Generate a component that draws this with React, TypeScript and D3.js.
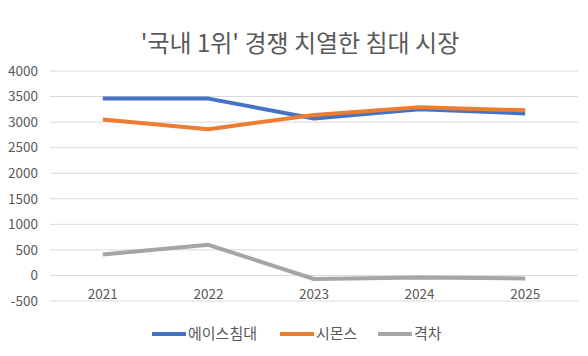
import React from "react";
import * as d3 from "d3";

const years = ["2021", "2022", "2023", "2024", "2025"];
const aceBed = [3460, 3460, 3070, 3250, 3170];
const simmons = [3050, 2860, 3140, 3290, 3230];
const gap = [410, 600, -70, -40, -60];
const yTicks = [-500, 0, 500, 1000, 1500, 2000, 2500, 3000, 3500, 4000];
const seriesNames = ["에이스침대", "시몬스", "격차"];
const colors = ["#4472C4", "#ED7D31", "#A5A5A5"];

export default function App() {
  const W = 588, H = 356;
  const font = "'Noto Sans CJK KR', 'Noto Sans', sans-serif";
  const x = d3.scaleBand<string>().domain(years).range([50, 578]);
  const y = d3.scaleLinear().domain([-500, 4000]).range([301, 71]);
  const line = d3
    .line<number>()
    .x((_, i) => (x(years[i]) as number) + x.bandwidth() / 2)
    .y((d) => y(d));
  const data = [aceBed, simmons, gap];
  const legendX = [152, 280, 378];
  return (
    <svg width={W} height={H} style={{ position: "absolute", left: 0, top: 0, background: "#fff" }}>
      <rect width={W} height={H} fill="#fff" />
      <text x={300} y={52} textAnchor="middle" fontSize={24} fill="#595959" fontFamily={font}>
        '국내 1위' 경쟁 치열한 침대 시장
      </text>
      {yTicks.map((t) => (
        <g key={t}>
          <line x1={50} x2={578} y1={y(t)} y2={y(t)} stroke="#D9D9D9" strokeWidth={1} />
          <text x={38} y={y(t)} dy="0.35em" textAnchor="end" fontSize={13.5} fill="#595959" fontFamily={font}>
            {t}
          </text>
        </g>
      ))}
      {years.map((yr) => (
        <text
          key={yr}
          x={(x(yr) as number) + x.bandwidth() / 2}
          y={y(0) + 19}
          dy="0.35em"
          textAnchor="middle"
          fontSize={13.5}
          fill="#595959"
          fontFamily={font}
        >
          {yr}
        </text>
      ))}
      {data.map((d, i) => (
        <path key={i} d={line(d) || ""} fill="none" stroke={colors[i]} strokeWidth={4} strokeLinejoin="round" />
      ))}
      {seriesNames.map((n, i) => (
        <g key={n}>
          <line x1={legendX[i]} x2={legendX[i] + 34} y1={334} y2={334} stroke={colors[i]} strokeWidth={4} />
          <text x={legendX[i] + 36} y={334} dy="0.35em" fontSize={15} fill="#595959" fontFamily={font}>
            {n}
          </text>
        </g>
      ))}
    </svg>
  );
}
